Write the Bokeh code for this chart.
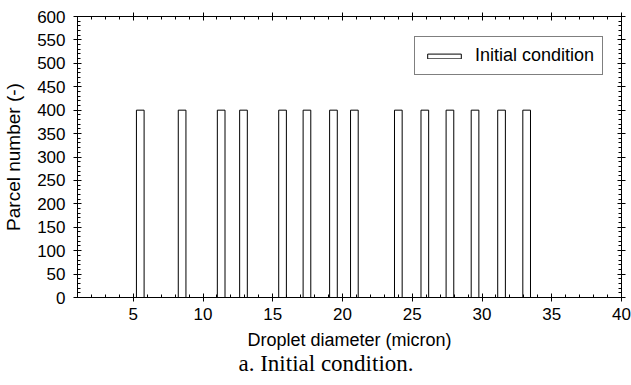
from bokeh.plotting import figure
from bokeh.models import Range1d, LinearAxis, SingleIntervalTicker, Legend, LegendItem, Title
from bokeh.embed import file_html
from bokeh.resources import INLINE

# Data
droplet_diameter = [5.5, 8.5, 11.3, 12.9, 15.7, 17.45, 19.35, 20.85, 24.0, 25.9, 27.7, 29.5, 31.4, 33.2]
parcel_number = [400, 400, 400, 400, 400, 400, 400, 400, 400, 400, 400, 400, 400, 400]
series_label = "Initial condition"
x_label = "Droplet diameter (micron)"
y_label = "Parcel number (-)"
caption = "a. Initial condition."

FONT = "Liberation Sans"

p = figure(width=631, height=385, x_range=Range1d(1, 40), y_range=Range1d(0, 600),
           output_backend="svg", toolbar_location=None, x_axis_location=None, y_axis_location=None,
           min_border_left=77, min_border_right=10, min_border_top=16, min_border_bottom=88)
p.xgrid.visible = False
p.ygrid.visible = False
p.outline_line_color = None
p.background_fill_color = "white"
p.border_fill_color = "white"

def make_axis(ticker, labels, label_text=None):
    ax = LinearAxis(ticker=ticker)
    ax.major_tick_in = 4
    ax.major_tick_out = 4
    ax.minor_tick_in = 3
    ax.minor_tick_out = 0
    ax.axis_line_color = "black"
    ax.major_tick_line_color = "black"
    ax.minor_tick_line_color = "black"
    if labels:
        ax.major_label_text_font = FONT
        ax.major_label_text_font_size = "17px"
        ax.major_label_text_color = "black"
    else:
        ax.major_label_text_font_size = "0px"
        ax.major_label_text_color = None
        ax.major_label_standoff = 0
    if label_text:
        ax.axis_label = label_text
        ax.axis_label_text_font = FONT
        ax.axis_label_text_font_style = "normal"
        ax.axis_label_text_color = "black"
    return ax

def x_ticker():
    return SingleIntervalTicker(interval=5, num_minor_ticks=5)

def y_ticker():
    return SingleIntervalTicker(interval=50, num_minor_ticks=5)

xb = make_axis(x_ticker(), True, x_label)
xb.major_label_standoff = 6
xb.axis_label_text_font_size = "18px"
xb.axis_label_standoff = 7
p.add_layout(xb, "below")

yl = make_axis(y_ticker(), True, y_label)
yl.major_label_standoff = 8
yl.axis_label_text_font_size = "19px"
yl.axis_label_standoff = 10
p.add_layout(yl, "left")

p.add_layout(make_axis(x_ticker(), False), "above")
p.add_layout(make_axis(y_ticker(), False), "right")

r = p.vbar(x=droplet_diameter, top=parcel_number, bottom=0, width=0.55,
           fill_color="white", line_color="black", line_width=1)

legend = Legend(items=[LegendItem(label=series_label, renderers=[r])],
                location=(337, 222))
legend.label_text_font = FONT
legend.label_text_font_size = "18px"
legend.label_text_color = "black"
legend.glyph_width = 42
legend.glyph_height = 6
legend.label_standoff = 10
legend.padding = 8
legend.margin = 0
legend.spacing = 0
legend.label_height = 20
legend.border_line_color = "black"
legend.border_line_width = 1
legend.background_fill_color = "white"
legend.background_fill_alpha = 1
p.add_layout(legend, "center")

t = Title(text=caption, align="left", text_font="Liberation Serif", text_font_size="23px",
          text_font_style="normal", text_color="black", standoff=-7, offset=161)
p.add_layout(t, "below")

open("out.html", "w").write(file_html(p, INLINE))
